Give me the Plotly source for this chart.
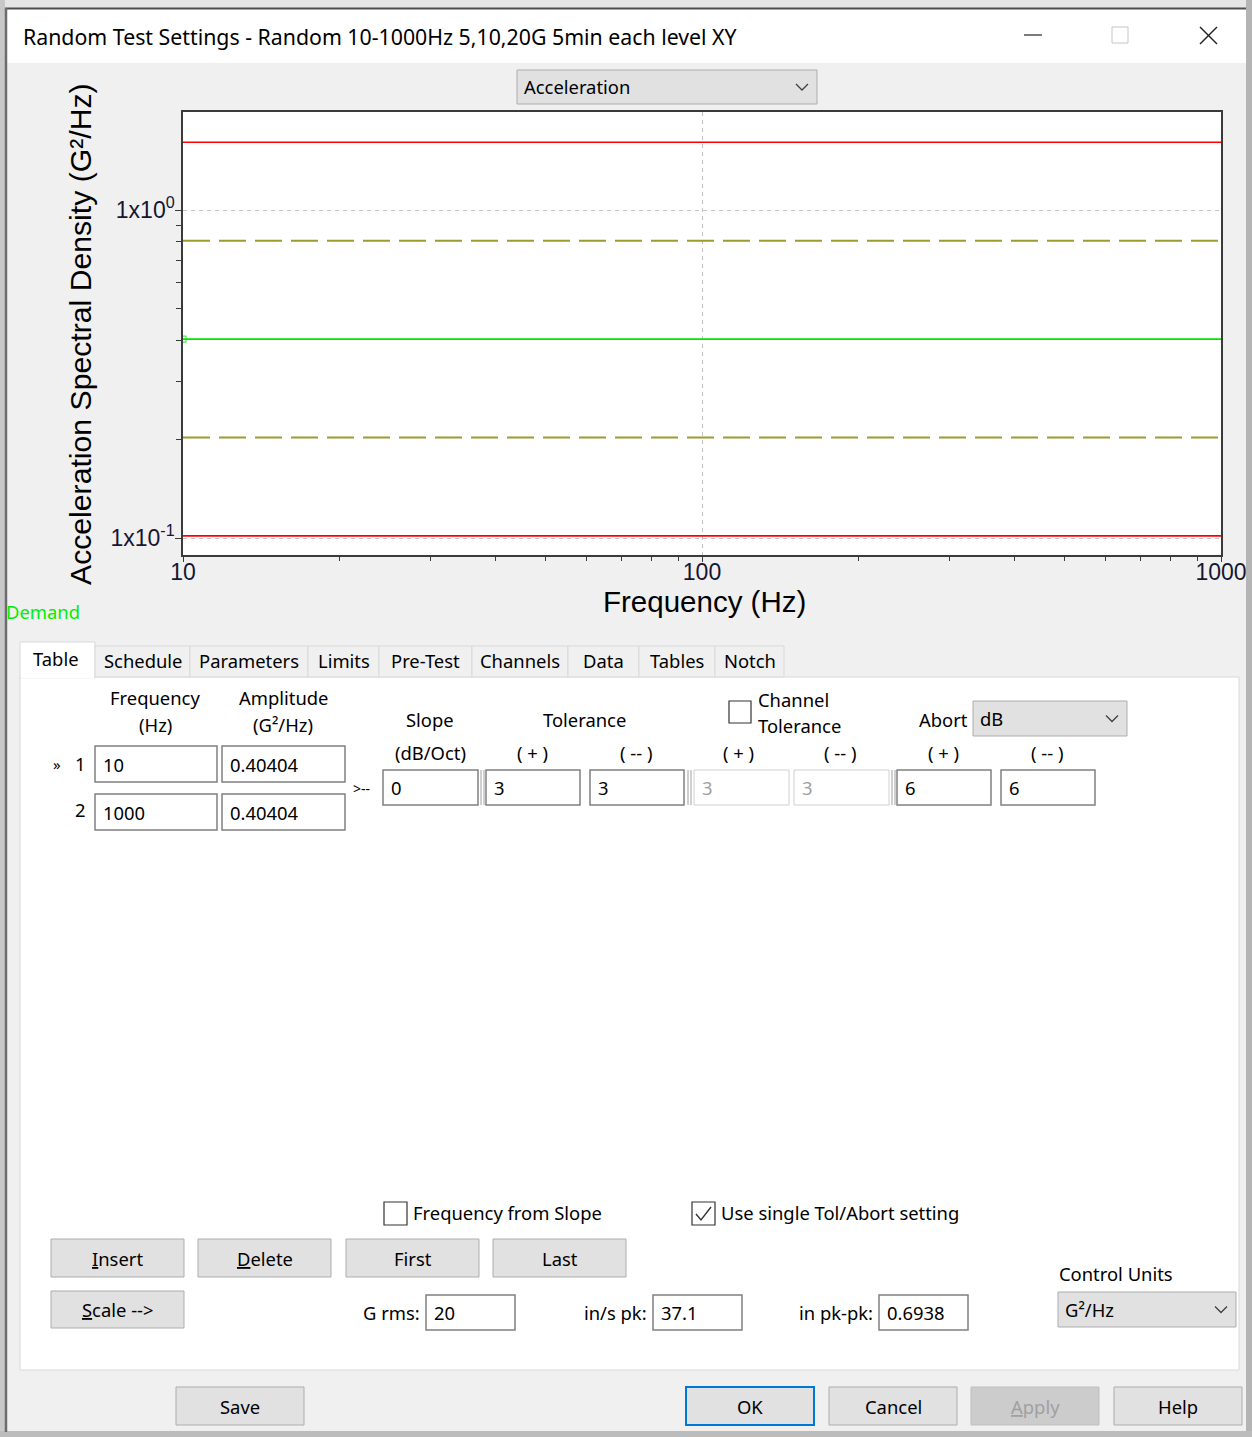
import plotly.graph_objects as go

# ---------------------------------------------------------------------------
# Test profile data
# ---------------------------------------------------------------------------
freq_hz = [10, 1000]                 # breakpoint frequencies
demand_g2hz = [0.40404, 0.40404]     # breakpoint amplitudes (G²/Hz)
slope_db_oct = 0
tolerance_db = [3, 3]                # (+), (--)
channel_tolerance_db = [3, 3]
abort_db = [6, 6]                    # (+), (--)
g_rms = "20"
ins_pk = "37.1"
in_pkpk = "0.6938"

x_tickvals = [10, 100, 1000]
x_ticktext = ["10", "100", "1000"]
y_tickvals = [0.1, 1]
y_ticktext = ["1x10<sup>-1</sup>", "1x10<sup>0</sup>"]
x_minor = [m * 10 ** d for d in (1, 2) for m in range(2, 10)]
y_minor = [m / 10 for m in range(2, 10)]

tab_names = ["Table", "Schedule", "Parameters", "Limits", "Pre-Test",
             "Channels", "Data", "Tables", "Notch"]

# ---------------------------------------------------------------------------
W, H = 1252, 1437
UI = "Segoe UI, Noto Sans, sans-serif"
CHART = "Liberation Sans, Arial, sans-serif"
AX = "#3a3a3a"
TICK = "#161632"
UI_SIZE = 18.4


def px(x):
    return x / W


def py(y):
    return 1 - y / H


def scale_db(vals, db):
    return [v * 10 ** (db / 10) for v in vals]


shapes = []
anns = []


def rect(x0, y0, x1, y1, fill, line=None, lw=1):
    shapes.append(dict(type="rect", xref="paper", yref="paper",
                       x0=px(x0), x1=px(x1), y0=py(y1), y1=py(y0),
                       fillcolor=fill,
                       line=dict(color=line or fill, width=lw if line else 0)))


def seg(x0, y0, x1, y1, color, lw=1):
    shapes.append(dict(type="line", xref="paper", yref="paper",
                       x0=px(x0), x1=px(x1), y0=py(y0), y1=py(y1),
                       line=dict(color=color, width=lw)))


def poly(points, color, lw=1.3):
    d = "M " + " L ".join(f"{px(x)},{py(y)}" for x, y in points)
    shapes.append(dict(type="path", xref="paper", yref="paper", path=d,
                       line=dict(color=color, width=lw)))


def text(t, x, y, size=UI_SIZE, color="#000000", anchor="center", family=UI,
         angle=0):
    anns.append(dict(text=t, x=px(x), y=py(y), xref="paper", yref="paper",
                     xanchor=anchor, yanchor="middle", showarrow=False,
                     textangle=angle, borderpad=0,
                     font=dict(size=size, color=color, family=family)))


def field(x0, y0, x1, y1, t, disabled=False):
    rect(x0, y0, x1, y1, "#ffffff", "#d0d0d0" if disabled else "#808080",
         1 if disabled else 1.5)
    text(t, x0 + 7, (y0 + y1) / 2, UI_SIZE,
         "#a0a0a0" if disabled else "#000000", "left")


def button(x0, y0, x1, y1, t, fill="#e1e1e1", border="#adadad", lw=1,
           color="#000000"):
    rect(x0, y0, x1, y1, fill, border, lw)
    text(t, (x0 + x1) / 2, (y0 + y1) / 2, UI_SIZE, color)


def dropdown(x0, y0, x1, y1, t):
    rect(x0, y0, x1, y1, "#e1e1e1", "#adadad", 1)
    text(t, x0 + 6, (y0 + y1) / 2, UI_SIZE, "#000000", "left")
    cx, cy = x1 - 15, (y0 + y1) / 2
    poly([(cx - 6, cy - 3), (cx, cy + 3), (cx + 6, cy - 3)], "#404040", 1.3)


def checkbox(x0, y0, size=23, checked=False):
    rect(x0, y0, x0 + size, y0 + size, "#ffffff", "#333333", 1.2)
    if checked:
        poly([(x0 + 4, y0 + 12), (x0 + 9, y0 + 18), (x0 + 19, y0 + 5)],
             "#333333", 1.4)


# ---------------------------------------------------------------------------
# Window frame and title bar
# ---------------------------------------------------------------------------
rect(0, 0, W, 8, "#e6e6e6")
rect(0, 0, 5, H, "#c8c8c8")
rect(1246, 0, W, H, "#b4b4b4")
rect(0, 1431, W, H, "#bcbcbc")
rect(7, 9, 1246, 63, "#ffffff")
seg(5, 8.5, 1246, 8.5, "#4e4e4e", 2)
seg(6, 8, 6, 1432, "#6c6c6c", 2.5)

text("Random Test Settings - Random 10-1000Hz 5,10,20G 5min each level XY",
     22, 36, 21.3, "#000000", "left")
seg(1024, 35, 1042, 35, "#333333", 1.3)
rect(1112, 27, 1128, 43, "rgba(0,0,0,0)", "#c6c6c6", 1)
seg(1200, 27, 1217, 44, "#222222", 1.4)
seg(1217, 27, 1200, 44, "#222222", 1.4)

dropdown(517, 70, 817, 104, "Acceleration")

# ---------------------------------------------------------------------------
# Chart titles
# ---------------------------------------------------------------------------
text("Frequency (Hz)", 704, 601, 29.5, "#000000", "center", CHART)
text("Acceleration Spectral Density (G²/Hz)", 80, 334, 30.2, "#000000",
     "center", CHART, angle=-90)
text("Demand", 5, 612, UI_SIZE, "#00ee00", "left")

# ---------------------------------------------------------------------------
# Tabs and table page
# ---------------------------------------------------------------------------
rect(20, 677, 1239, 1370, "#ffffff", "#d9d9d9", 1)
tab_edges = [20, 95, 190, 308, 379, 472, 568, 639, 715, 784]
for i, name in enumerate(tab_names):
    x0, x1 = tab_edges[i], tab_edges[i + 1]
    if i == 0:
        rect(x0, 642, x1, 678, "#ffffff", "#d9d9d9", 1)
        seg(x0 + 1, 677.5, x1 - 1, 677.5, "#ffffff", 2)
        text(name, (x0 + x1) / 2 - 2, 658)
    else:
        rect(x0, 646, x1, 677, "#f0f0f0", "#d9d9d9", 1)
        text(name, (x0 + x1) / 2, 661)

text("Frequency", 155, 697)
text("(Hz)", 155, 724)
text("Amplitude", 283, 697)
text("(G²/Hz)", 283, 724)
text("»", 57, 764, 15)
text("1", 80, 763)
text("2", 80, 809)
field(95, 746, 217, 782, str(freq_hz[0]))
field(222, 746, 345, 782, f"{demand_g2hz[0]:.5f}")
field(95, 794, 217, 830, str(freq_hz[1]))
field(222, 794, 345, 830, f"{demand_g2hz[1]:.5f}")

text("Slope", 430, 719)
text("(dB/Oct)", 430, 752)
text("Tolerance", 584, 719)
text("( + )", 532, 752)
text("( -- )", 636, 752)
checkbox(729, 701, 22)
text("Channel", 757, 700, anchor="left")
text("Tolerance", 757, 725, anchor="left")
text("( + )", 738, 752)
text("( -- )", 840, 752)
text("Abort", 918, 719, anchor="left")
dropdown(973, 701, 1127, 736, "dB")
text("( + )", 943, 752)
text("( -- )", 1047, 752)

text("&gt;--", 352, 788, 14, anchor="left")
field(383, 770, 478, 805, str(slope_db_oct))
field(486, 770, 580, 805, str(tolerance_db[0]))
field(590, 770, 684, 805, str(tolerance_db[1]))
field(694, 770, 789, 805, str(channel_tolerance_db[0]), disabled=True)
field(794, 770, 889, 805, str(channel_tolerance_db[1]), disabled=True)
field(897, 770, 991, 805, str(abort_db[0]))
field(1001, 770, 1095, 805, str(abort_db[1]))
for xs in (481, 484, 688, 691, 892, 895):
    seg(xs, 770, xs, 805, "#a0a0a0", 1)

checkbox(384, 1202)
text("Frequency from Slope", 412, 1212, anchor="left")
checkbox(692, 1202, checked=True)
text("Use single Tol/Abort setting", 720, 1212, anchor="left")

button(51, 1239, 184, 1277, "<u>I</u>nsert")
button(198, 1239, 331, 1277, "<u>D</u>elete")
button(346, 1239, 479, 1277, "First")
button(493, 1239, 626, 1277, "Last")
button(51, 1291, 184, 1328, "<u>S</u>cale --&gt;")

text("G rms:", 421, 1312, anchor="right")
field(426, 1295, 515, 1330, g_rms)
text("in/s pk:", 648, 1312, anchor="right")
field(653, 1295, 742, 1330, ins_pk)
text("in pk-pk:", 874, 1312, anchor="right")
field(879, 1295, 968, 1330, in_pkpk)

text("Control Units", 1058, 1273, anchor="left")
dropdown(1058, 1292, 1236, 1327, "G²/Hz")

# Dialog buttons
button(176, 1387, 304, 1425, "Save")
button(686, 1387, 814, 1425, "OK", fill="#e1e1e1", border="#0078d7", lw=2)
button(829, 1387, 957, 1425, "Cancel")
button(971, 1387, 1099, 1425, "<u>A</u>pply", fill="#cccccc",
       border="#bfbfbf", color="#a0a0a0")
button(1114, 1387, 1242, 1425, "Help")

# ---------------------------------------------------------------------------
# Spectrum traces
# ---------------------------------------------------------------------------
fig = go.Figure()
OLIVE = "#9b9b2e"
for db in (tolerance_db[0], -tolerance_db[1]):
    fig.add_trace(go.Scatter(x=freq_hz, y=scale_db(demand_g2hz, db),
                             mode="lines", hoverinfo="skip",
                             line=dict(color=OLIVE, width=2,
                                       dash="27px,9px")))
for db in (abort_db[0], -abort_db[1]):
    fig.add_trace(go.Scatter(x=freq_hz, y=scale_db(demand_g2hz, db),
                             mode="lines", hoverinfo="skip",
                             line=dict(color="#ff0000", width=1.6)))
fig.add_trace(go.Scatter(x=freq_hz, y=demand_g2hz, mode="lines+markers",
                         hoverinfo="skip",
                         line=dict(color="#00e600", width=1.6),
                         marker=dict(symbol="square-open", size=[6, 0],
                                     color="#00e600",
                                     line=dict(width=1.2, color="#00e600"))))

fig.update_layout(
    template="plotly",
    width=W, height=H, autosize=False,
    margin=dict(l=0, r=0, t=0, b=0, autoexpand=False),
    paper_bgcolor="#f0f0f0", plot_bgcolor="#ffffff",
    showlegend=False,
    shapes=shapes, annotations=anns,
    xaxis=dict(
        type="log", range=[1, 3], domain=[px(183), px(1221)],
        automargin=False,
        showline=True, mirror=True, linecolor=AX, linewidth=1.5,
        ticks="outside", ticklen=5, tickwidth=1, tickcolor=AX,
        tickmode="array", tickvals=x_tickvals, ticktext=x_ticktext,
        ticklabelstandoff=-9,
        tickfont=dict(family=CHART, size=23, color=TICK),
        showgrid=True, gridcolor="#c4c4c4", gridwidth=1,
        griddash="4px,4px", zeroline=False, fixedrange=True,
        minor=dict(tickmode="array", tickvals=x_minor, ticks="outside",
                   ticklen=4, tickcolor=AX, showgrid=False),
    ),
    yaxis=dict(
        type="log", range=[-1.0518, 0.2988],
        domain=[py(555), py(112)],
        automargin=False,
        showline=True, mirror=True, linecolor=AX, linewidth=1.5,
        ticks="outside", ticklen=6, tickwidth=1, tickcolor=AX,
        tickmode="array", tickvals=y_tickvals, ticktext=y_ticktext,
        ticklabelstandoff=-4,
        tickfont=dict(family=CHART, size=23, color=TICK),
        showgrid=True, gridcolor="#c4c4c4", gridwidth=1,
        griddash="4px,4px", zeroline=False, fixedrange=True,
        minor=dict(tickmode="array", tickvals=y_minor, ticks="outside",
                   ticklen=5, tickcolor=AX, showgrid=False),
    ),
)

fig.write_html("out.html", config={"displayModeBar": False})
